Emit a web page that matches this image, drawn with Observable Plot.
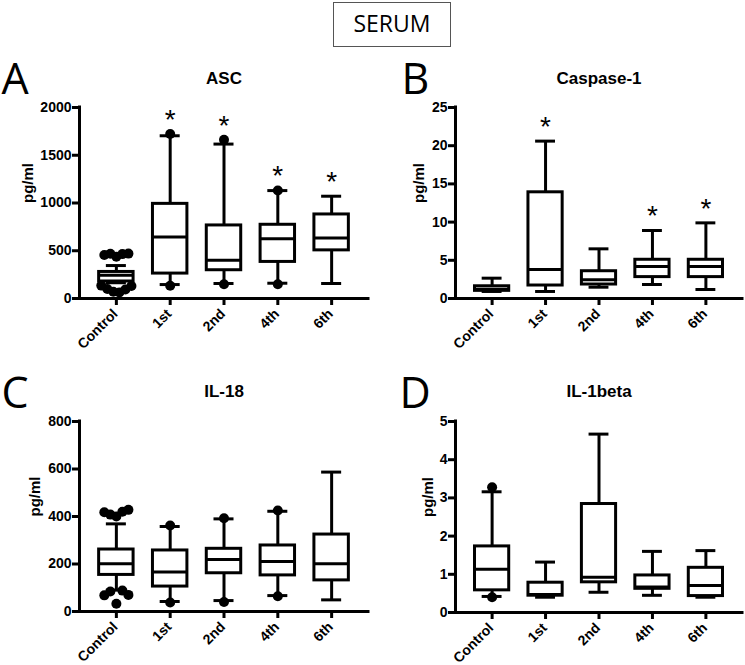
<!DOCTYPE html>
<html>
<head>
<meta charset="utf-8">
<script src="https://cdn.jsdelivr.net/npm/d3@7"></script>
<script src="https://cdn.jsdelivr.net/npm/@observablehq/plot@0.6"></script>
<style>
  html, body { margin: 0; padding: 0; background: #fff; }
  #root { position: relative; width: 745px; height: 665px; background: #fff; overflow: hidden; }
  .panel { position: absolute; }
  .serum {
    position: absolute; left: 333px; top: 2px; width: 116px; height: 40px; padding-bottom: 3px;
    border: 1px solid #555; font-family: "Open Sans", sans-serif; font-size: 23px;
    line-height: 40px; text-align: center; color: #000;
  }
</style>
</head>
<body>
<div id="root">
  <div class="serum">SERUM</div>
  <div id="pA" class="panel" style="left:0px;top:50px"></div>
  <div id="pB" class="panel" style="left:370px;top:50px"></div>
  <div id="pC" class="panel" style="left:0px;top:350px"></div>
  <div id="pD" class="panel" style="left:370px;top:350px"></div>
</div>
<script>
// ---------- data ----------
const categories = ["Control", "1st", "2nd", "4th", "6th"];

// A: ASC (pg/ml)
const ascQ1  = [178, 261, 296, 383, 504];
const ascMed = [244, 643, 400, 626, 633];
const ascQ3  = [278, 991, 765, 772, 880];
const ascLo  = [165, 146, 157, 160, 157];
const ascHi  = [345, 1704, 1617, 1130, 1071];
const ascOut = [[455, 468, 438, 465, 470, 135, 100, 70, 62, 95, 130], [1722, 133], [1661, 150], [1131, 150], []];
const ascStar = [false, true, true, true, true];
const ascTicks = [0, 500, 1000, 1500, 2000];

// B: Caspase-1 (pg/ml)
const casQ1  = [1.0, 1.7, 1.83, 2.8, 2.8];
const casMed = [1.2, 3.8, 2.44, 4.19, 4.19];
const casQ3  = [1.6, 13.9, 3.57, 5.07, 5.07];
const casLo  = [0.92, 0.92, 1.48, 1.83, 1.18];
const casHi  = [2.66, 20.6, 6.5, 8.9, 9.9];
const casOut = [[], [], [], [], []];
const casStar = [false, true, false, true, true];
const casTicks = [0, 5, 10, 15, 20, 25];

// C: IL-18 (pg/ml)
const il18Q1  = [154, 105, 161, 152, 131];
const il18Med = [201, 166, 219, 211, 201];
const il18Q3  = [261, 257, 264, 278, 324];
const il18Lo  = [90, 42, 46, 67, 49];
const il18Hi  = [369, 358, 390, 422, 587];
const il18Out = [[418, 408, 400, 420, 428, 68, 84, 33, 88, 70], [362, 38], [393, 40], [425, 64], []];
const il18Star = [false, false, false, false, false];
const il18Ticks = [0, 200, 400, 600, 800];

// D: IL-1beta (pg/ml)
const il1bQ1  = [0.58, 0.44, 0.79, 0.62, 0.43];
const il1bMed = [1.13, 0.47, 0.92, 0.67, 0.71];
const il1bQ3  = [1.73, 0.78, 2.84, 0.97, 1.17];
const il1bLo  = [0.42, 0.40, 0.53, 0.45, 0.40];
const il1bHi  = [3.16, 1.32, 4.67, 1.60, 1.62];
const il1bOut = [[3.28, 0.40], [], [], [], []];
const il1bStar = [false, false, false, false, false];
const il1bTicks = [0, 1, 2, 3, 4, 5];

const yLabel = "pg/ml";

// ---------- drawing ----------
const X0 = -0.685, X1 = 4.685;
const HW = 0.32, CW = 0.186, SPREAD = 6 / 53.6;

function makePanel(cfg) {
  const rows = categories.map((c, i) => ({
    i, c, q1: cfg.q1[i], med: cfg.med[i], q3: cfg.q3[i], lo: cfg.lo[i], hi: cfg.hi[i],
    star: cfg.star[i], top: Math.max(cfg.hi[i], ...cfg.out[i])
  }));
  const outs = [];
  cfg.out.forEach((vals, i) => {
    const hiG = vals.filter(v => v > cfg.med[i]);
    const loG = vals.filter(v => v <= cfg.med[i]);
    [hiG, loG].forEach(g => g.forEach((v, k) => outs.push({x: i + (k - (g.length - 1) / 2) * SPREAD, v})));
  });
  const yMax = cfg.ticks[cfg.ticks.length - 1];
  const sw = 3;
  return Plot.plot({
    width: cfg.width, height: cfg.height,
    marginLeft: cfg.ml, marginRight: cfg.mr, marginTop: cfg.mt, marginBottom: cfg.mb,
    x: {domain: [X0, X1], axis: null},
    y: {domain: [0, yMax], axis: null},
    style: {fontFamily: "'Liberation Sans', Arial, sans-serif", fontWeight: "bold", fontSize: "14px", color: "#000", background: "transparent", overflow: "visible"},
    marks: [
      Plot.ruleX(rows, {x: "i", y1: "lo", y2: "q1", stroke: "#000", strokeWidth: sw}),
      Plot.ruleX(rows, {x: "i", y1: "q3", y2: "hi", stroke: "#000", strokeWidth: sw}),
      Plot.ruleY(rows, {x1: d => d.i - CW, x2: d => d.i + CW, y: "lo", stroke: "#000", strokeWidth: sw}),
      Plot.ruleY(rows, {x1: d => d.i - CW, x2: d => d.i + CW, y: "hi", stroke: "#000", strokeWidth: sw}),
      Plot.rect(rows, {x1: d => d.i - HW, x2: d => d.i + HW, y1: "q1", y2: "q3", fill: "#fff", stroke: "#000", strokeWidth: sw}),
      Plot.ruleY(rows, {x1: d => d.i - HW, x2: d => d.i + HW, y: "med", stroke: "#000", strokeWidth: sw}),
      Plot.dot(outs, {x: "x", y: "v", r: 5, fill: "#000", stroke: null}),
      Plot.text(rows.filter(d => d.star), {x: "i", y: "top", text: () => "*", dy: -14, fontSize: 28, fontWeight: "normal"}),
      Plot.ruleX([X0], {y1: 0, y2: yMax, stroke: "#000", strokeWidth: sw, strokeLinecap: "square"}),
      Plot.ruleY([0], {x1: X0, x2: X1, stroke: "#000", strokeWidth: sw, strokeLinecap: "square"}),
      Plot.axisY({ticks: cfg.ticks, tickFormat: d => String(d), tickSize: 7, strokeWidth: sw, tickPadding: 1,
        label: null, fontSize: 14}),
      // x tick marks (labels drawn separately, rotated)
      Plot.axisX({ticks: [0, 1, 2, 3, 4], tickFormat: () => "", tickSize: 7, strokeWidth: sw, label: null}),
      Plot.text(rows, {x: "i", frameAnchor: "bottom", text: "c", rotate: -45, textAnchor: "end", lineAnchor: "middle",
        dx: -1, dy: 13, fontSize: 14}),
      Plot.text([yLabel], {frameAnchor: "left", rotate: -90, lineAnchor: "top", dx: -cfg.labelOffset, fontSize: 15}),
      Plot.text([cfg.title], {frameAnchor: "top", dy: cfg.titleDy, fontSize: 17}),
      Plot.text([cfg.letter], {frameAnchor: "top-left", textAnchor: "start", dx: cfg.letterDx, dy: cfg.letterDy,
        fontSize: 43, fontWeight: "normal", fontFamily: "'Open Sans', sans-serif"})
    ]
  });
}

document.getElementById("pA").append(makePanel({
  title: "ASC", letter: "A", q1: ascQ1, med: ascMed, q3: ascQ3, lo: ascLo, hi: ascHi, out: ascOut, star: ascStar, ticks: ascTicks,
  width: 370, height: 300, ml: 79, mr: 2, mt: 57, mb: 52, labelOffset: 57, titleDy: -36, letterDx: -78, letterDy: -44
}));
document.getElementById("pB").append(makePanel({
  title: "Caspase-1", letter: "B", q1: casQ1, med: casMed, q3: casQ3, lo: casLo, hi: casHi, out: casOut, star: casStar, ticks: casTicks,
  width: 375, height: 300, ml: 85, mr: 3, mt: 57, mb: 52, labelOffset: 42, titleDy: -36, letterDx: -54, letterDy: -44
}));
document.getElementById("pC").append(makePanel({
  title: "IL-18", letter: "C", q1: il18Q1, med: il18Med, q3: il18Q3, lo: il18Lo, hi: il18Hi, out: il18Out, star: il18Star, ticks: il18Ticks,
  width: 370, height: 315, ml: 79, mr: 2, mt: 71, mb: 54, labelOffset: 50, titleDy: -37, letterDx: -78, letterDy: -44
}));
document.getElementById("pD").append(makePanel({
  title: "IL-1beta", letter: "D", q1: il1bQ1, med: il1bMed, q3: il1bQ3, lo: il1bLo, hi: il1bHi, out: il1bOut, star: il1bStar, ticks: il1bTicks,
  width: 375, height: 315, ml: 85, mr: 3, mt: 71, mb: 53, labelOffset: 33, titleDy: -37, letterDx: -56, letterDy: -44
}));
</script>
</body>
</html>
